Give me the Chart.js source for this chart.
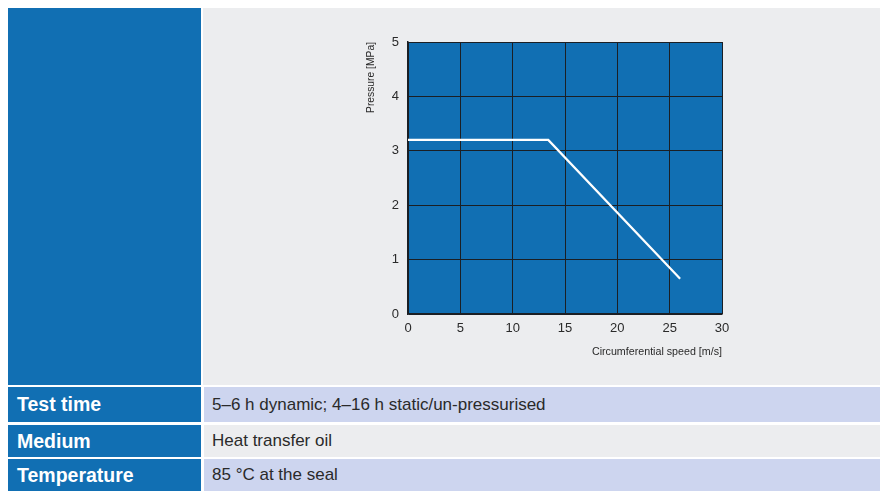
<!DOCTYPE html>
<html>
<head>
<meta charset="utf-8">
<script src="https://cdn.jsdelivr.net/npm/chart.js@4.4.1/dist/chart.umd.min.js"></script>
<style>
  html, body { margin: 0; padding: 0; background: #ffffff; }
  body { width: 880px; height: 491px; position: relative; overflow: hidden; font-family: 'Liberation Sans', sans-serif; }
  .box { position: absolute; }
  .blue { background: #116fb3; }
  .grey { background: #ecedef; }
  .lav { background: #cdd5ef; }
  .label { color: #ffffff; font-weight: bold; font-size: 19.5px; padding-left: 9px; box-sizing: border-box; display: flex; align-items: center; }
  .value { color: #2a2a2a; font-size: 17px; padding-left: 8px; box-sizing: border-box; display: flex; align-items: center; }
  #chartWrap { left: 203px; top: 8px; width: 677px; height: 377px; }
</style>
</head>
<body>
<div class="box blue" style="left:8px;top:8px;width:193px;height:377px;"></div>
<div class="box grey" id="chartWrap"><canvas id="limitChart"></canvas></div>

<div class="box blue label" style="left:8px;top:387px;width:193px;height:35px;">Test time</div>
<div class="box lav value" style="left:204px;top:387px;width:676px;height:35px;">5–6 h dynamic; 4–16 h static/un-pressurised</div>
<div class="box blue label" style="left:8px;top:425px;width:193px;height:32px;">Medium</div>
<div class="box grey value" style="left:204px;top:425px;width:676px;height:32px;">Heat transfer oil</div>
<div class="box blue label" style="left:8px;top:459px;width:193px;height:32px;">Temperature</div>
<div class="box lav value" style="left:204px;top:459px;width:676px;height:32px;">85 °C at the seal</div>

<script>
// limit curve
const speeds = [0, 13.4, 26];
const pressures = [3.2, 3.2, 0.65];
const xTicks = [0, 5, 10, 15, 20, 25, 30];
const yTicks = [0, 1, 2, 3, 4, 5];

const axisFont = "'Liberation Sans', sans-serif";

// blue fill behind the grid
const plotBg = {
  id: 'plotBg',
  beforeDraw(chart) {
    const { ctx, chartArea: a } = chart;
    ctx.save();
    ctx.fillStyle = '#116fb3';
    ctx.fillRect(a.left, a.top, a.right - a.left, a.bottom - a.top);
    ctx.restore();
  }
};

new Chart(document.getElementById('limitChart'), {
  type: 'scatter',
  data: {
    datasets: [{
      data: speeds.map((s, i) => ({ x: s, y: pressures[i] })),
      showLine: true,
      borderColor: '#ffffff',
      borderWidth: 2.2,
      pointRadius: 0,
      tension: 0
    }]
  },
  options: {
    responsive: true,
    maintainAspectRatio: false,
    animation: false,
    layout: { padding: { left: 158, right: 158, top: 34, bottom: 23 } },
    plugins: { legend: { display: false }, tooltip: { enabled: false } },
    scales: {
      x: {
        type: 'linear', min: 0, max: 30,
        afterBuildTicks: s => { s.ticks = xTicks.map(v => ({ value: v })); },
        afterFit: s => { s.height = 48; },
        grid: { color: '#1b1f24', lineWidth: 1, drawTicks: false },
        border: { color: '#1b1f24', width: 1.5 },
        ticks: { color: '#2a2a2a', padding: 7, font: { family: axisFont, size: 13 } },
        title: { display: true, text: 'Circumferential speed [m/s]', align: 'end', color: '#2a2a2a', padding: { top: 0, bottom: 4 }, font: { family: axisFont, size: 10.7 } }
      },
      y: {
        type: 'linear', min: 0, max: 5,
        afterBuildTicks: s => { s.ticks = yTicks.map(v => ({ value: v })); },
        afterFit: s => { s.width = 47; },
        grid: { color: '#1b1f24', lineWidth: 1, drawTicks: false },
        border: { color: '#1b1f24', width: 1.5 },
        ticks: { color: '#2a2a2a', padding: 9, font: { family: axisFont, size: 13 } },
        title: { display: true, text: 'Pressure [MPa]', align: 'end', color: '#2a2a2a', padding: { top: 4, bottom: 0 }, font: { family: axisFont, size: 10.3 } }
      }
    }
  },
  plugins: [plotBg]
});
</script>
</body>
</html>
